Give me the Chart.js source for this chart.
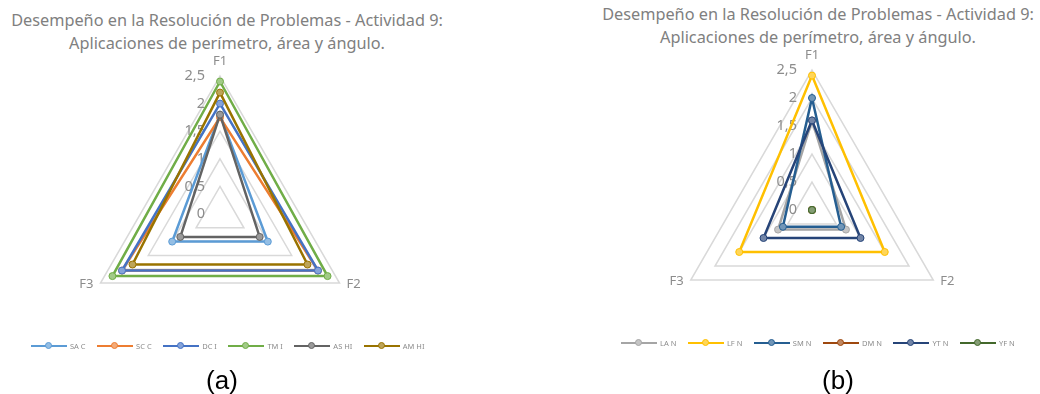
<!DOCTYPE html>
<html>
<head>
<meta charset="utf-8">
<script src="https://cdn.jsdelivr.net/npm/chart.js@4.4.1/dist/chart.umd.min.js"></script>
<style>
  body { margin: 0; width: 1040px; height: 394px; background: #fff; position: relative; overflow: hidden; font-family: "Noto Sans", sans-serif; }
  canvas { position: absolute; top: 0; }
  #chartA { left: 0; }
  #chartB { left: 520px; }
  .title { position: absolute; width: 520px; text-align: center; color: #808080; font-size: 16.3px; line-height: 23px; white-space: nowrap; }
  .legend { position: absolute; display: flex; align-items: center; gap: 11.5px; height: 10px; font-size: 7.5px; color: #8c8c8c; white-space: nowrap; }
  .legend .it { display: flex; align-items: center; gap: 3px; }
  .sw { position: relative; width: 36px; height: 2.5px; }
  .sw i { position: absolute; left: 14px; top: -2.5px; width: 5px; height: 5px; border-radius: 50%; border: 1px solid; box-sizing: content-box; }
  .cap { position: absolute; width: 100px; text-align: center; font-family: "Liberation Sans", Arial, sans-serif; font-size: 26px; line-height: 30px; color: #000; }
</style>
</head>
<body>
<div class="title" id="titleA" style="left:-33px; top:9px;"></div>
<div class="title" id="titleB" style="left:558px; top:3px;"></div>
<canvas id="chartA" width="520" height="394"></canvas>
<canvas id="chartB" width="520" height="394"></canvas>
<div class="legend" id="legendA" style="left:31px; top:341px;"></div>
<div class="legend" id="legendB" style="left:621px; top:338px;"></div>
<div class="cap" id="capA" style="left:172px; top:365px;"></div>
<div class="cap" id="capB" style="left:788px; top:365px;"></div>

<script>
// shared labels
const categories = ['F1', 'F2', 'F3'];
const tickValues = [0, 0.5, 1, 1.5, 2, 2.5];
const tickLabels = ['0', '0,5', '1', '1,5', '2', '2,5'];
const titleLines = ['Desempeño en la Resolución de Problemas - Actividad 9:', 'Aplicaciones de perímetro, área y ángulo.'];
const captions = ['(a)', '(b)'];

// chart (a)
const namesA = ['SA C', 'SC C', 'DC I', 'TM I', 'AS HI', 'AM HI'];
const saC = [1.8, 1.0, 1.0];
const scC = [1.75, 2.05, 2.05];
const dcI = [2.0, 2.05, 2.05];
const tmI = [2.4, 2.25, 2.25];
const asHI = [1.8, 0.83, 0.83];
const amHI = [2.2, 1.83, 1.83];

// chart (b)
const namesB = ['LA N', 'LF N', 'SM N', 'DM N', 'YT N', 'YF N'];
const laN = [1.6, 0.7, 0.7];
const lfN = [2.4, 1.5, 1.5];
const smN = [2.0, 0.6, 0.6];
const dmN = [0, 0, 0];
const ytN = [1.6, 1.0, 1.0];
const yfN = [0, 0, 0];

const colorsA = ['#5B9BD5', '#ED7D31', '#4472C4', '#70AD47', '#636363', '#997300'];
const colorsB = ['#A5A5A5', '#FFC000', '#255E91', '#9E480E', '#264478', '#43682B'];

// lighter marker fill, like Excel
function tint(hex, k) {
  const n = parseInt(hex.slice(1), 16);
  const c = [n >> 16, (n >> 8) & 255, n & 255].map(v => Math.round(v + (255 - v) * k));
  return `rgb(${c.join(',')})`;
}

// tick labels left of the F1 axis and the F labels around the triangle
const excelLabels = {
  id: 'excelLabels',
  beforeDatasetsDraw(chart) {
    const r = chart.scales.r;
    const ctx = chart.ctx;
    ctx.save();
    ctx.fillStyle = '#8c8c8c';
    ctx.font = '14.5px "Noto Sans"';
    ctx.textAlign = 'right';
    ctx.textBaseline = 'middle';
    tickValues.forEach((v, i) => {
      ctx.fillText(tickLabels[i], r.xCenter - 15, r.yCenter - r.getDistanceFromCenterForValue(v));
    });
    ctx.font = '13px "Noto Sans"';
    chart.data.labels.forEach((lab, i) => {
      const p = r.getPointPosition(i, r.drawingArea);
      if (i === 0) {
        ctx.textAlign = 'center';
        ctx.fillText(lab, p.x, p.y - 15);
      } else if (p.x > r.xCenter) {
        ctx.textAlign = 'left';
        ctx.fillText(lab, p.x + 7, p.y + 1);
      } else {
        ctx.textAlign = 'right';
        ctx.fillText(lab, p.x - 7, p.y + 1);
      }
    });
    ctx.restore();
  }
};

function makeChart(id, names, series, colors, padding) {
  const ctx = document.getElementById(id).getContext('2d');
  return new Chart(ctx, {
    type: 'radar',
    data: {
      labels: categories,
      datasets: series.map((s, i) => ({
        label: names[i],
        data: s,
        borderColor: colors[i],
        backgroundColor: colors[i],
        borderWidth: 2.5,
        fill: false,
        tension: 0,
        pointRadius: 3.5,
        pointBorderWidth: 1,
        pointBorderColor: colors[i],
        pointBackgroundColor: tint(colors[i], 0.35),
        order: -i
      }))
    },
    options: {
      responsive: false,
      animation: false,
      events: [],
      layout: { padding },
      plugins: { legend: { display: false }, title: { display: false }, tooltip: { enabled: false } },
      scales: {
        r: {
          min: 0,
          max: 2.5,
          ticks: { stepSize: 0.5, display: false },
          grid: { color: '#d9d9d9', lineWidth: 1.5 },
          angleLines: { display: false },
          pointLabels: { display: false }
        }
      }
    },
    plugins: [excelLabels]
  });
}

function buildLegend(elId, chart) {
  const el = document.getElementById(elId);
  chart.data.datasets.forEach(ds => {
    const it = document.createElement('div');
    it.className = 'it';
    it.innerHTML = `<span class="sw" style="background:${ds.borderColor}"><i style="border-color:${ds.borderColor};background:${ds.pointBackgroundColor}"></i></span><span>${ds.label}</span>`;
    el.appendChild(it);
  });
}

document.getElementById('titleA').innerHTML = titleLines.join('<br>');
document.getElementById('titleB').innerHTML = titleLines.join('<br>');
document.getElementById('capA').textContent = captions[0];
document.getElementById('capB').textContent = captions[1];

const chartA = makeChart('chartA', namesA, [saC, scC, dcI, tmI, asHI, amHI], colorsA,
  { top: 76, bottom: 42, left: 82, right: 162 });
const chartB = makeChart('chartB', namesB, [laN, lfN, smN, dmN, ytN, yfN], colorsB,
  { top: 70, bottom: 44, left: 152, right: 88 });

buildLegend('legendA', chartA);
buildLegend('legendB', chartB);
</script>
</body>
</html>
